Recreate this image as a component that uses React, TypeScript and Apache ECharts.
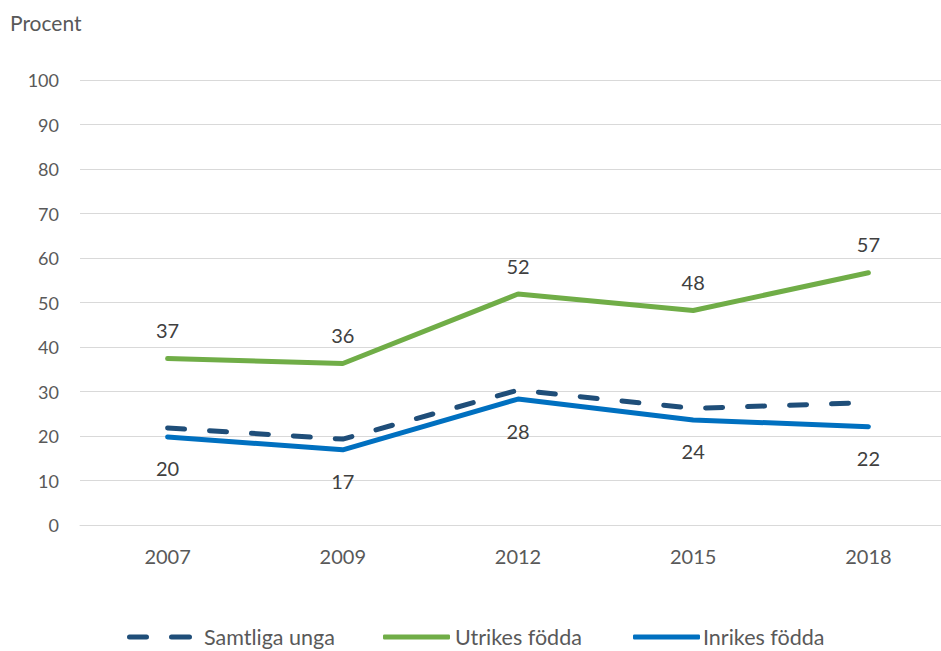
import React, { useEffect, useRef } from "react";
import * as echarts from "echarts";

const years = ["2007", "2009", "2012", "2015", "2018"];
const samtligaUnga = [21.8, 19.3, 30.3, 26.2, 27.5];
const utrikesFodda = [37.4, 36.3, 51.9, 48.2, 56.7];
const inrikesFodda = [19.8, 16.9, 28.3, 23.6, 22.1];
const yTicks = [0, 10, 20, 30, 40, 50, 60, 70, 80, 90, 100];
const seriesNames = ["Samtliga unga", "Utrikes födda", "Inrikes födda"];

const FONT = "Lato, 'Open Sans', sans-serif";
const DASH_ICON =
  "path://M2.5,0h17a2.5,2.5 0 0 1 0,5h-17a2.5,2.5 0 0 1 0,-5z M44.5,0h18a2.5,2.5 0 0 1 0,5h-18a2.5,2.5 0 0 1 0,-5z";

export default function App() {
  const ref = useRef<HTMLDivElement>(null);
  useEffect(() => {
    if (!ref.current) return;
    const chart = echarts.init(ref.current, null, { renderer: "svg" });
    const legendText = (pad: number) => ({
      fontSize: 21.5,
      color: "#595959",
      fontFamily: FONT,
      padding: [0, 0, 0, pad],
    });
    const legendBase = {
      top: 626,
      padding: 0,
      itemHeight: 5,
    };
    chart.setOption({
      animation: false,
      backgroundColor: "#ffffff",
      textStyle: { fontFamily: FONT },
      graphic: [
        {
          type: "text",
          left: 10,
          top: 12,
          style: { text: "Procent", fontSize: 21, fill: "#595959", fontFamily: FONT },
        },
      ],
      legend: [
        {
          ...legendBase,
          left: 127,
          itemWidth: 65,
          textStyle: legendText(7),
          data: [{ name: seriesNames[0], icon: DASH_ICON }],
        },
        {
          ...legendBase,
          left: 383,
          itemWidth: 67,
          textStyle: legendText(0),
          data: [{ name: seriesNames[1], icon: "roundRect" }],
        },
        {
          ...legendBase,
          left: 633,
          itemWidth: 67,
          textStyle: legendText(-2),
          data: [{ name: seriesNames[2], icon: "roundRect" }],
        },
      ],
      grid: { left: 80, right: 0, top: 80, bottom: 126, containLabel: false },
      xAxis: {
        type: "category",
        data: years,
        boundaryGap: true,
        axisLine: { show: true, lineStyle: { color: "#D9D9D9", width: 1 } },
        axisTick: { show: false },
        axisLabel: { fontSize: 20, color: "#595959", margin: 21, fontFamily: FONT },
      },
      yAxis: {
        type: "value",
        min: yTicks[0],
        max: yTicks[yTicks.length - 1],
        interval: 10,
        axisLine: { show: false },
        axisTick: { show: false },
        splitLine: { lineStyle: { color: "#D9D9D9", width: 1 } },
        axisLabel: { fontSize: 18, color: "#595959", margin: 21, fontFamily: FONT },
      },
      series: [
        {
          name: seriesNames[0],
          type: "line",
          data: samtligaUnga,
          symbol: "none",
          lineStyle: { color: "#1F4E79", width: 5, type: [17, 25], cap: "round" },
          itemStyle: { color: "#1F4E79" },
        },
        {
          name: seriesNames[1],
          type: "line",
          data: utrikesFodda,
          symbol: "circle",
          symbolSize: 1,
          showSymbol: true,
          lineStyle: { color: "#70AD47", width: 5, cap: "round" },
          itemStyle: { color: "#70AD47" },
          label: {
            show: true,
            position: "top",
            distance: 18,
            fontSize: 20,
            color: "#404040",
            fontFamily: FONT,
            formatter: (p: any) => String(Math.round(p.value)),
          },
        },
        {
          name: seriesNames[2],
          type: "line",
          data: inrikesFodda,
          symbol: "circle",
          symbolSize: 1,
          showSymbol: true,
          lineStyle: { color: "#0070C0", width: 5, cap: "round" },
          itemStyle: { color: "#0070C0" },
          label: {
            show: true,
            position: "bottom",
            distance: 21,
            fontSize: 20,
            color: "#404040",
            fontFamily: FONT,
            formatter: (p: any) => String(Math.round(p.value)),
          },
        },
      ],
    });
    return () => chart.dispose();
  }, []);
  return (
    <div style={{ position: "absolute", left: 0, top: 0, width: 941, height: 651, overflow: "hidden", background: "#fff" }}>
      <div ref={ref} style={{ width: 956, height: 651 }} />
    </div>
  );
}
